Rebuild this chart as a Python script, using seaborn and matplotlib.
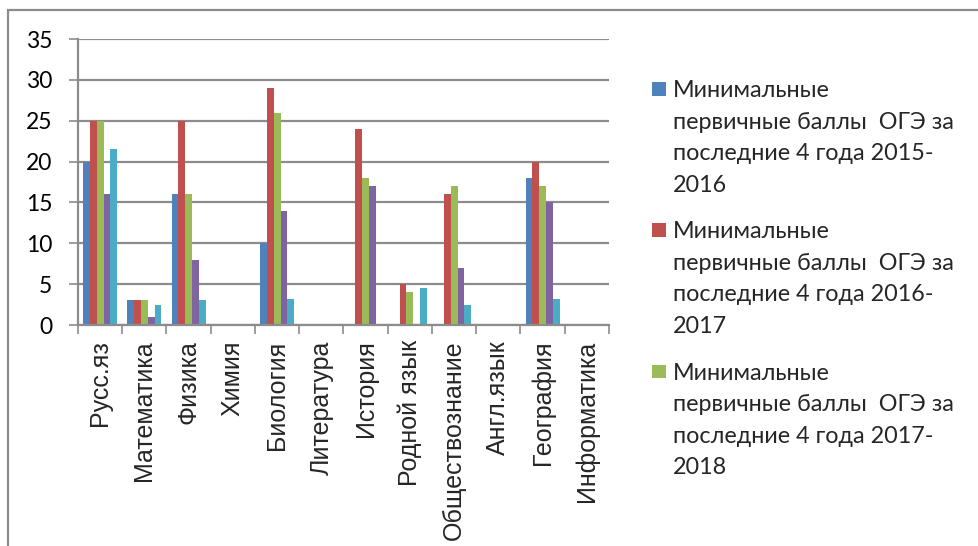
import numpy as np
import pandas as pd
import matplotlib
matplotlib.use("Agg")
import matplotlib.pyplot as plt
import seaborn as sns
from matplotlib.patches import Rectangle
from matplotlib.legend_handler import HandlerPatch

subjects = ["Русс.яз", "Математика", "Физика", "Химия", "Биология", "Литература",
            "История", "Родной язык", "Обществознание", "Англ.язык", "География",
            "Информатика"]
series_names = [
    "Минимальные\nпервичные баллы  ОГЭ за\nпоследние 4 года 2015-\n2016",
    "Минимальные\nпервичные баллы  ОГЭ за\nпоследние 4 года 2016-\n2017",
    "Минимальные\nпервичные баллы  ОГЭ за\nпоследние 4 года 2017-\n2018",
    "Минимальные\nпервичные баллы  ОГЭ за\nпоследние 4 года 2018-\n2019",
    "Минимальные\nпервичные баллы  ОГЭ за\nпоследние 4 года 2019-\n2020",
]
s2015 = [20, 3, 16, 0, 10, 0, 0, 0, 0, 0, 18, 0]
s2016 = [25, 3, 25, 0, 29, 0, 24, 5, 16, 0, 20, 0]
s2017 = [25, 3, 16, 0, 26, 0, 18, 4, 17, 0, 17, 0]
s2018 = [16, 1, 8, 0, 14, 0, 17, 0, 7, 0, 15, 0]
s2019 = [21.5, 2.4, 3, 0, 3.2, 0, 0, 4.5, 2.5, 0, 3.2, 0]
yticks = [0, 5, 10, 15, 20, 25, 30, 35]
colors = ["#4F81BD", "#C0504D", "#9BBB59", "#8064A2", "#4BACC6"]

all_series = [s2015, s2016, s2017, s2018, s2019]
rows = []
for name, vals in zip(series_names, all_series):
    for subj, v in zip(subjects, vals):
        rows.append({"subject": subj, "value": v, "series": name})
df = pd.DataFrame(rows)

sns.set_style("white")
plt.rcParams['font.family'] = ['Lato', 'DejaVu Sans']

W, H = 979, 546
DPI = 100
fig = plt.figure(figsize=(W / DPI, H / DPI), dpi=DPI)
ax = fig.add_axes([78 / W, 1 - 325 / H, (609 - 78) / W, (325 - 39) / H])

sns.barplot(data=df, x="subject", y="value", hue="series", order=subjects,
            hue_order=series_names, palette=colors, saturation=1, width=0.77,
            dodge=True, ax=ax, legend=False, linewidth=0, errorbar=None)

gray = "#8c8c8c"
ax.set_ylim(0, 35)
ax.set_xlim(-0.5, len(subjects) - 0.5)
ax.set_yticks(yticks)
ax.yaxis.grid(True, color=gray, lw=1.6)
ax.set_axisbelow(True)
for s in ["top", "right"]:
    ax.spines[s].set_visible(False)
for s in ["left", "bottom"]:
    ax.spines[s].set_color(gray)
    ax.spines[s].set_linewidth(1.6)
ax.set_xlabel("")
ax.set_ylabel("")
ax.tick_params(axis="y", left=True, length=6.5, width=1.2, color=gray, pad=12,
               labelsize=16.5, labelcolor="black")
ax.set_xticks(np.arange(-0.5, len(subjects), 1), minor=True)
ax.tick_params(axis="x", which="minor", bottom=True, length=6.5, width=1.2, color=gray)
ax.tick_params(axis="x", which="major", bottom=False, length=0, pad=11)
ax.set_xticks(range(len(subjects)))
ax.set_xticklabels(subjects, rotation=90, fontsize=18, family=["Liberation Sans"],
                   va="top", ha="center")

# outer chart border
fig.add_artist(Rectangle((8 / W, -0.1), 1.2, (1 - 10 / H) + 0.1,
                         transform=fig.transFigure, fill=False,
                         edgecolor=gray, lw=1.6))

FS = 16.8
SQ = 10.0


class TopSquare(HandlerPatch):
    def create_artists(self, legend, orig_handle, xdescent, ydescent,
                       width, height, fontsize, trans):
        p = Rectangle((-xdescent, 0), SQ, SQ,
                      facecolor=orig_handle.get_facecolor(), edgecolor="none",
                      transform=trans)
        return [p]


handles = [Rectangle((0, 0), 1, 1, facecolor=c) for c in colors[:3]]
leg = fig.legend(handles, series_names[:3], loc="upper left",
                 bbox_to_anchor=(652 / W, 1 - 80 / H), frameon=False,
                 fontsize=FS, borderpad=0, borderaxespad=0,
                 handlelength=SQ / FS, handletextpad=0.3, labelspacing=1.1,
                 handler_map={Rectangle: TopSquare()})
for t in leg.get_texts():
    t.set_linespacing(1.62)

# align each legend square with the first line of its label
fig.canvas.draw()
for t, p in zip(leg.get_texts(), leg.legend_handles):
    tb = t.get_window_extent()
    pb = p.get_window_extent()
    dy_px = (tb.y1 - 2) - pb.y1
    p.set_y(p.get_y() + dy_px * 72 / DPI)

fig.savefig("out.png", dpi=DPI)
